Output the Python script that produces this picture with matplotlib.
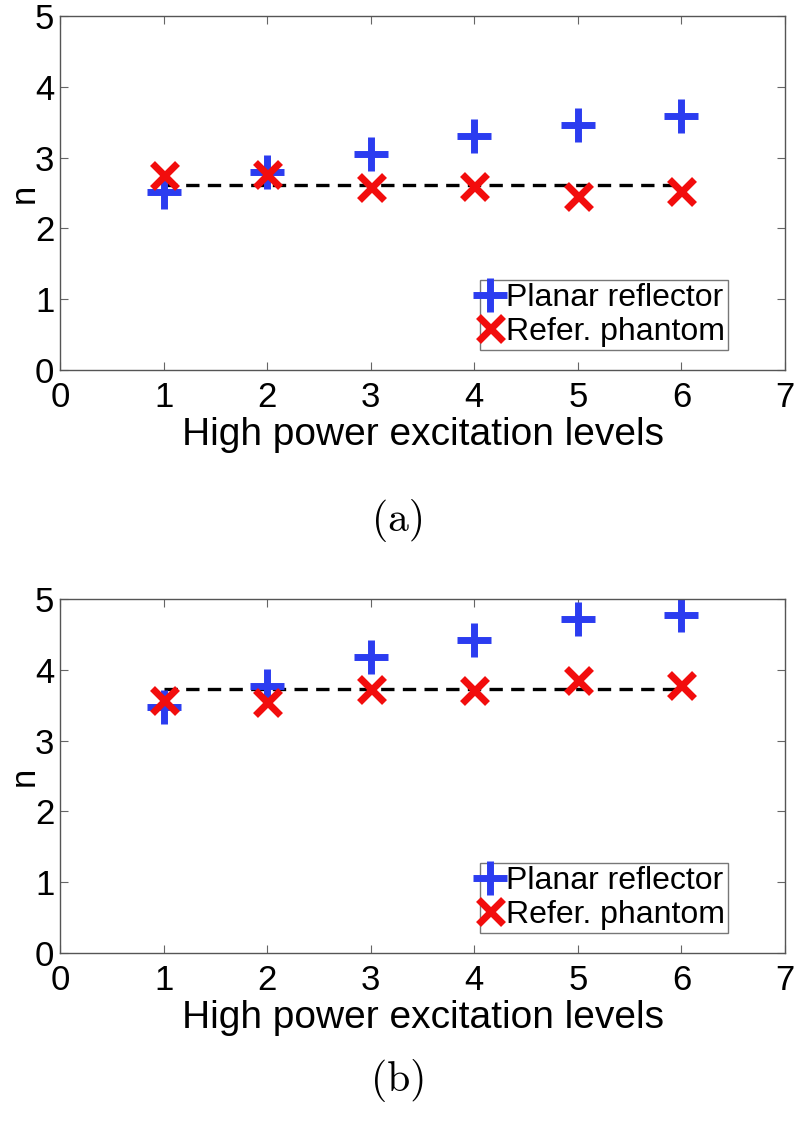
import matplotlib
matplotlib.use("Agg")
import matplotlib.pyplot as plt

levels = [1, 2, 3, 4, 5, 6]
planar_a = [2.52, 2.80, 3.05, 3.30, 3.46, 3.59]
phantom_a = [2.76, 2.77, 2.59, 2.60, 2.46, 2.53]
ref_a = 2.62
planar_b = [3.48, 3.77, 4.18, 4.42, 4.72, 4.78]
phantom_b = [3.58, 3.55, 3.73, 3.72, 3.85, 3.78]
ref_b = 3.73
xticks = [0, 1, 2, 3, 4, 5, 6, 7]
yticks = [0, 1, 2, 3, 4, 5]
captions = ["(a)", "(b)"]

plt.rcParams['font.family'] = ['Liberation Sans', 'DejaVu Sans']
W, H = 797, 1133
fig = plt.figure(figsize=(W / 100, H / 100), dpi=100)

blue = '#2b3cf0'
red = '#f20d0d'

def make(ax_rect, planar, phantom, ref, cap, cap_y):
    ax = fig.add_axes(ax_rect)
    ax.plot([levels[0], levels[-1]], [ref, ref], '--', color='black', lw=2.4, dashes=(4, 2.5), zorder=1)
    ax.plot(levels, planar, '+', color=blue, ms=24, mew=5, ls='none', label='Planar reflector', zorder=2)
    ax.plot(levels, phantom, 'x', color=red, ms=18, mew=5, ls='none', label='Refer. phantom', zorder=3)
    ax.set_xlim(0, 7)
    ax.set_ylim(0, 5)
    ax.set_xticks(xticks)
    ax.set_yticks(yticks)
    ax.tick_params(axis='both', labelsize=25, direction='in', length=6, color='#666666',
                   top=True, right=True)
    ax.tick_params(axis='x', pad=8)
    ax.tick_params(axis='y', pad=4)
    for s in ax.spines.values():
        s.set_color('#555555')
        s.set_linewidth(1)
    ax.set_xlabel('High power excitation levels', fontsize=28, labelpad=2)
    ax.set_ylabel('n', fontsize=25)
    ax.yaxis.set_label_coords(-0.0265, 0.5)
    leg = ax.legend(loc='lower right', bbox_to_anchor=(0.921, 0.057), fontsize=23,
                    frameon=True, fancybox=False, handlelength=0.4, handletextpad=0.3,
                    borderpad=0.1, labelspacing=0.1, borderaxespad=0)
    leg.get_frame().set_edgecolor('#555555')
    leg.get_frame().set_linewidth(1)
    fig.text(0.5, cap_y, cap, ha='center', va='center', fontsize=30, family='cmr10')
    return ax

make([60 / W, 1 - 370 / H, 725 / W, 354 / H], planar_a, phantom_a, ref_a, captions[0], 1 - 521 / H)
make([60 / W, 1 - 953 / H, 725 / W, 354 / H], planar_b, phantom_b, ref_b, captions[1], 1 - 1081 / H)

fig.savefig('out.png', dpi=100)
